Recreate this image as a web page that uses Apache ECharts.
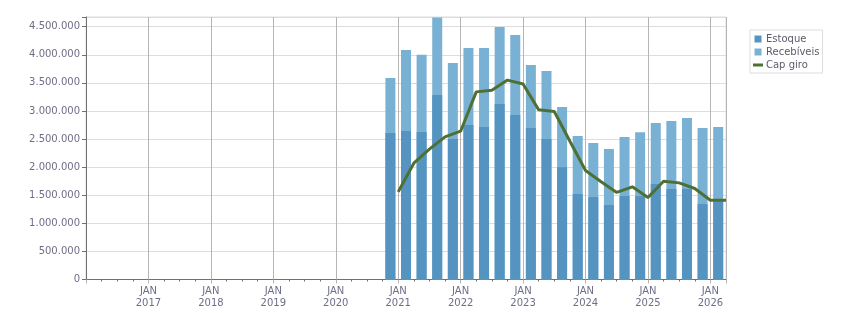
<!DOCTYPE html>
<html>
    <head>
        <title>Capital de giro</title>
        <meta charset="UTF-8">
        <script src="https://cdn.jsdelivr.net/npm/echarts@6/dist/echarts.min.js"></script>
        <style>
            body { margin: 0; background-color: #fff; }
            #main { width: 851px; height: 313px; }
        </style>
    </head>
    <body>
        <div id="main"></div>
        <script>
            // trimestres (ano-trimestre)
            var trimestres = ['2020-4',
                '2021-1', '2021-2', '2021-3', '2021-4',
                '2022-1', '2022-2', '2022-3', '2022-4',
                '2023-1', '2023-2', '2023-3', '2023-4',
                '2024-1', '2024-2', '2024-3', '2024-4',
                '2025-1', '2025-2', '2025-3', '2025-4',
                '2026-1'];
            var estoque = [2607000, 2643000, 2625000, 3283000, 2500000, 2750000, 2714000, 3123000,
                2927000, 2696000, 2500000, 2000000, 1521000, 1467000, 1325000, 1485000,
                1485000, 1699000, 1610000, 1610000, 1343000, 1396000];
            var recebiveis = [979000, 1442000, 1375000, 1380000, 1355000, 1371000, 1407000, 1371000,
                1425000, 1121000, 1211000, 1070000, 1032000, 962000, 997000, 1051000,
                1138000, 1086000, 1210000, 1264000, 1353000, 1318000];
            var capGiro = [1560000, 2070000, 2320000, 2540000, 2640000, 3340000, 3370000, 3550000,
                3480000, 3020000, 2990000, 2460000, 1940000, 1740000, 1550000, 1650000,
                1460000, 1750000, 1720000, 1620000, 1410000, 1410000];
            var anoInicio = 2016;
            var yMax = 4673000;

            // meses desde jan/2016 ate o inicio do trimestre
            function inicioTri(t) {
                var p = t.split('-');
                return (parseInt(p[0]) - anoInicio) * 12 + (parseInt(p[1]) - 1) * 3;
            }

            // eixo x numerico nao empilha as barras, entao o recebiveis vai
            // desenhado do zero ate o total, atras do estoque
            var dadosEstoque = [], dadosReceb = [], dadosCap = [];
            for (var i = 0; i < trimestres.length; i++) {
                var m = inicioTri(trimestres[i]);
                dadosEstoque.push([m + 1.5, estoque[i]]);
                dadosReceb.push([m + 1.5, estoque[i] + recebiveis[i]]);
                dadosCap.push([m + 3, capGiro[i]]);
            }

            var fonte = 'DejaVu Sans';
            var corTexto = '#6e6e88';

            var chart = echarts.init(document.getElementById('main'));
            var option = {
                animation: false,
                textStyle: { fontFamily: fonte },
                grid: {
                    left: 86, right: 125, top: 17, bottom: 33.5,
                    show: true, borderColor: '#dddddd', borderWidth: 1
                },
                legend: {
                    orient: 'vertical',
                    left: 750, top: 30,
                    padding: [3, 3, 2, 3],
                    itemWidth: 10, itemHeight: 7, itemGap: 1,
                    borderColor: '#dddddd', borderWidth: 1,
                    textStyle: { fontFamily: fonte, fontSize: 10, color: '#5c5c6c', lineHeight: 12, padding: [0, 0, 0, -2] },
                    data: [
                        { name: 'Estoque', icon: 'path://M0,0H7V7H0Z' },
                        { name: 'Recebíveis', icon: 'path://M0,0H7V7H0Z' },
                        { name: 'Cap giro', icon: 'path://M0,0H10V3H0Z' }
                    ]
                },
                xAxis: {
                    type: 'value',
                    min: 0,
                    max: 123,
                    interval: 12,
                    axisLine: { show: true, onZero: false, lineStyle: { color: '#707070' } },
                    axisTick: { show: true, length: 4, lineStyle: { color: '#b5b5b5' } },
                    minorTick: { show: true, splitNumber: 4, length: 2, lineStyle: { color: '#707070' } },
                    splitLine: { show: true, lineStyle: { color: '#b5b5b5' } },
                    axisLabel: {
                        margin: 6,
                        color: corTexto,
                        fontSize: 10,
                        lineHeight: 12,
                        showMinLabel: false,
                        formatter: function (v) {
                            if (v === 0 || v % 12 !== 0) return '';
                            return 'JAN\n' + (anoInicio + v / 12);
                        }
                    }
                },
                yAxis: {
                    type: 'value',
                    min: 0,
                    max: yMax,
                    interval: 500000,
                    axisLine: { show: true, lineStyle: { color: '#707070' } },
                    axisTick: { show: true, length: 4, lineStyle: { color: '#707070' } },
                    splitLine: { show: true, lineStyle: { color: '#dddddd' } },
                    axisLabel: {
                        margin: 6,
                        color: corTexto,
                        fontSize: 10,
                        formatter: function (v) {
                            if (v % 500000 !== 0) return '';
                            return v.toString().replace(/\B(?=(\d{3})+(?!\d))/g, '.');
                        }
                    }
                },
                series: [
                    {
                        name: 'Recebíveis', type: 'bar', barWidth: 10,
                        itemStyle: { color: '#78b1d4' },
                        data: dadosReceb
                    },
                    {
                        name: 'Estoque', type: 'bar', barWidth: 10, barGap: '-100%',
                        itemStyle: { color: '#5594c0' },
                        data: dadosEstoque
                    },
                    {
                        name: 'Cap giro', type: 'line', showSymbol: false, symbol: 'none',
                        lineStyle: { color: '#4f7035', width: 3 },
                        itemStyle: { color: '#4f7035' },
                        data: dadosCap
                    }
                ]
            };
            chart.setOption(option);
        </script>
    </body>
</html>
